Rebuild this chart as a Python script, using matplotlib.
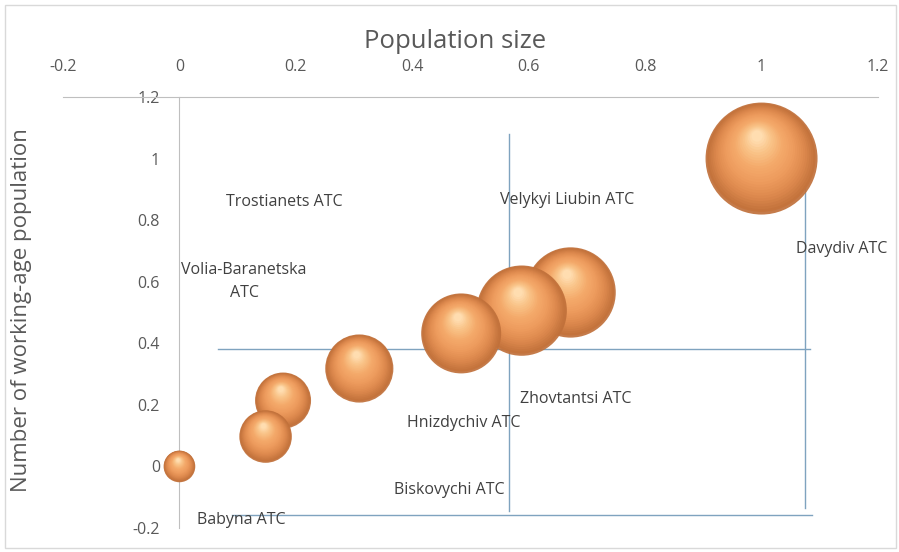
import matplotlib
matplotlib.use("Agg")
import matplotlib.pyplot as plt
import numpy as np
from matplotlib.colors import LinearSegmentedColormap
from matplotlib.transforms import ScaledTranslation
from matplotlib.patches import Rectangle

plt.rcParams["font.family"] = ["Open Sans", "DejaVu Sans"]

# --- data ---
communities = ["Babyna ATC", "Biskovychi ATC", "Volia-Baranetska\nATC", "Trostianets ATC",
               "Hnizdychiv ATC", "Velykyi Liubin ATC", "Zhovtantsi ATC", "Davydiv ATC"]
population = [0.0, 0.148, 0.178, 0.309, 0.484, 0.588, 0.672, 1.0]
working_age = [0.0, 0.097, 0.214, 0.318, 0.432, 0.506, 0.565, 1.0]
bubble_size = [0.08, 0.22, 0.25, 0.37, 0.51, 0.65, 0.65, 1.0]

# where Excel dropped the data labels
label_x = [0.106, 0.463, 0.111, 0.18, 0.489, 0.666, 0.68, 1.137]
label_y = [-0.175, -0.078, 0.60, 0.86, 0.14, 0.864, 0.22, 0.705]

# quadrant guide lines
vline_x = [0.566, 1.074]
vline_ymin = [-0.146, -0.136]
vline_ymax = [1.08, 1.09]
hline_y = [0.38, -0.159]
hline_xmin = [0.067, 0.09]
hline_xmax = [1.084, 1.086]

xticks = [-0.2, 0, 0.2, 0.4, 0.6, 0.8, 1, 1.2]
yticks = [-0.2, 0, 0.2, 0.4, 0.6, 0.8, 1, 1.2]
tick_text = ["-0.2", "0", "0.2", "0.4", "0.6", "0.8", "1", "1.2"]

fig = plt.figure(figsize=(8.99, 5.52), dpi=100)
ax = fig.add_axes([0.0701, 0.0435, 0.9065, 0.7808])
ax.set_xlim(-0.2, 1.2)
ax.set_ylim(-0.2, 1.2)

# axes: x on top, y crossing at x=0
for s in ["right", "bottom"]:
    ax.spines[s].set_visible(False)
ax.spines["top"].set_color("#BFBFBF")
ax.spines["left"].set_color("#BFBFBF")
ax.spines["left"].set_position(("data", 0))
ax.xaxis.tick_top()
ax.set_xticks(xticks, tick_text)
ax.set_yticks(yticks, tick_text)
ax.tick_params(axis="x", length=0, pad=16, labelsize=11.5, labelcolor="#595959")
ax.tick_params(axis="y", length=0, pad=14, labelsize=11.5, labelcolor="#595959")

# guide lines
for x, y0, y1 in zip(vline_x, vline_ymin, vline_ymax):
    ax.plot([x, x], [y0, y1], color="#7FA3BF", lw=1, zorder=1)
for y, x0, x1 in zip(hline_y, hline_xmin, hline_xmax):
    ax.plot([x0, x1], [y, y], color="#7FA3BF", lw=1, zorder=1)

# shaded "3D" bubbles built from stacked discs
shade = LinearSegmentedColormap.from_list(
    "ball", ["#C0703A", "#DE8A4E", "#EE9C5E", "#F4AA6B", "#F9C286", "#FFDDB0"])
max_r = 56 * 0.72  # biggest radius in points
n_layers = 28
order = [7, 6, 5, 4, 3, 2, 1, 0]
z = 3
for i in order:
    r = max_r * np.sqrt(bubble_size[i])
    for t in np.linspace(0, 1, n_layers):
        rr = r * (1 - 0.9 * t)
        dx = -0.08 * r * t
        dy = 0.4 * r * t
        tr = ax.transData + ScaledTranslation(dx / 72, dy / 72, fig.dpi_scale_trans)
        ax.scatter([population[i]], [working_age[i]], s=(2 * rr) ** 2,
                   color=shade(t ** 1.1), edgecolors="none", transform=tr,
                   alpha=0.92 if t == 0 else 1, zorder=z)
    z += 1

# data labels
for name, x, y in zip(communities, label_x, label_y):
    ax.text(x, y, name, ha="center", va="center", fontsize=11.5, color="#404040",
            zorder=20, linespacing=1.6)

fig.text(455 / 899, 1 - 42 / 552, "Population size", ha="center", va="center",
         fontsize=18.5, color="#595959")
fig.text(22 / 899, 1 - 310 / 552, "Number of working-age population", ha="center",
         va="center", rotation=90, fontsize=16, color="#595959")

fig.add_artist(Rectangle((5 / 899, 4 / 552), 891 / 899, 543 / 552,
                         transform=fig.transFigure, fill=False,
                         edgecolor="#D9D9D9", lw=1))

fig.savefig("out.png", dpi=100)
